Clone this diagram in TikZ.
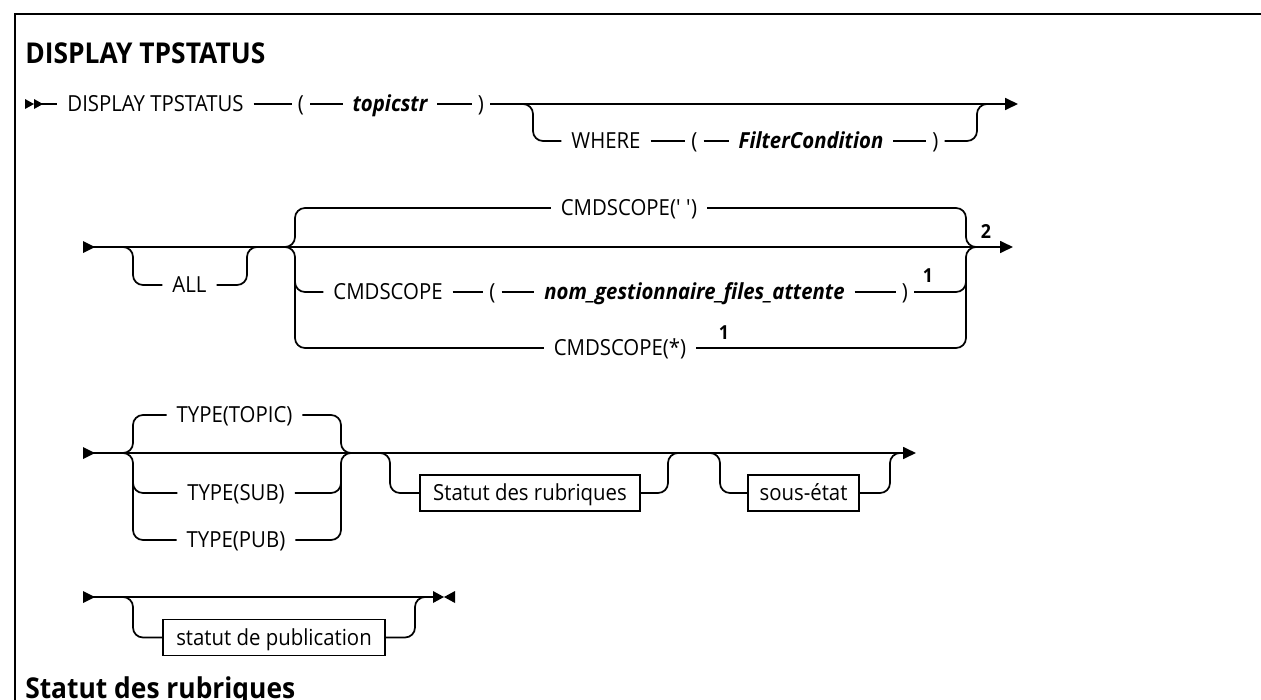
\documentclass[tikz,border=0pt]{standalone}
\usepackage{fontspec}
\setmainfont{Open Sans}[FakeStretch=0.92]
\usetikzlibrary{arrows.meta}
\newcommand\dfs{\fontsize{16.6pt}{19pt}\selectfont}
\newcommand\hfs{\fontsize{21.5pt}{25pt}\selectfont}
\newcommand\nfs{\fontsize{14.5pt}{16pt}\selectfont}
\begin{document}
\begin{tikzpicture}[x=0.75pt,y=-0.75pt,
  ln/.style={line width=1.3pt, rounded corners=7.5pt},
  endtip/.style={-{Triangle[length=9.75pt,width=9pt]}},
  tok/.style={inner sep=0pt, outer xsep=7.5pt, outer ysep=0pt, text height=11.8pt, text depth=0pt, font=\dfs},
  par/.style={tok, outer xsep=4.5pt},
  var/.style={tok, font=\dfs\bfseries\itshape},
  boxn/.style={draw, line width=1.1pt, inner sep=0pt, outer sep=0pt, minimum height=27pt, text height=11.8pt, text depth=0pt, font=\dfs},
  hd/.style={inner sep=0pt, anchor=base west, font=\hfs\bfseries},
  note/.style={inner sep=0pt, font=\nfs\bfseries},
  trimark/.style={fill=black}
]
\useasboundingbox (0,0) rectangle (1261,700);
% frame
\draw[line width=1.5pt] (15,720) -- (15,14) -- (1290,14);
\node[hd] (title) at (25,63) {DISPLAY TPSTATUS};

% ---------- row 1 ----------
\fill[trimark] (25,99) -- (34,104) -- (25,109) -- cycle;
\fill[trimark] (34,99) -- (43,104) -- (34,109) -- cycle;
\coordinate (r1s) at (40,104);
\coordinate (r1e) at (1018,104);
\node[tok] (d1) at (155.5,104) {DISPLAY TPSTATUS};
\node[par] (p1) at (301,104) {(};
\node[var] (v1) at (390,104) {topicstr};
\node[par] (p2) at (481,104) {)};
\node[tok] (w1) at (606,141) {WHERE};
\node[par] (p3) at (694.5,141) {(};
\node[var] (v2) at (811,141) {FilterCondition};
\node[par] (p4) at (935.5,141) {)};
\draw[ln] (r1s) -- (d1.west);
\draw[ln] (d1.east) -- (p1.west);
\draw[ln] (p1.east) -- (v1.west);
\draw[ln] (v1.east) -- (p2.west);
\draw[ln,endtip] (p2.east) -- (r1e);
\draw[ln] (515,104) -- (533,104) -- (533,141) -- (w1.west);
\draw[ln] (w1.east) -- (p3.west);
\draw[ln] (p3.east) -- (v2.west);
\draw[ln] (v2.east) -- (p4.west);
\draw[ln] (p4.east) -- (977,141) -- (977,104) -- (995,104);

% ---------- row 2 ----------
\fill[trimark] (83,241) -- (95,247) -- (83,253) -- cycle;
\coordinate (r2s) at (93,247);
\coordinate (r2e) at (1013,247);
\draw[ln,endtip] (r2s) -- (r2e);
\node[tok] (all) at (189.5,285) {ALL};
\draw[ln] (115,247) -- (133,247) -- (133,285) -- (all.west);
\draw[ln] (all.east) -- (247,285) -- (247,247) -- (265,247);
\node[tok] (cs1) at (629,208) {CMDSCOPE(\textquotesingle\ \textquotesingle)};
\node[tok] (cs2) at (388,292) {CMDSCOPE};
\node[par] (p5) at (492.5,292) {(};
\node[var] (v3) at (694.5,292) {nom\_gestionnaire\_files\_attente};
\node[par] (p6) at (905,292) {)};
\node[tok] (cs3) at (620,348) {CMDSCOPE(*)};
\node[note] (n1) at (928,276) {1};
\node[note] (n2) at (724,333) {1};
\node[note] (n3) at (986,231) {2};
\draw[ln] (277,247) -- (295,247) -- (295,208) -- (cs1.west);
\draw[ln] (cs1.east) -- (966,208) -- (966,247) -- (984,247);
\draw[ln] (277,247) -- (295,247) -- (295,348) -- (cs3.west);
\draw[ln] (295,268) -- (295,292) -- (cs2.west);
\draw[ln] (cs2.east) -- (p5.west);
\draw[ln] (p5.east) -- (v3.west);
\draw[ln] (v3.east) -- (p6.west);
\draw[ln] (p6.east) -- (966,292) -- (966,268);
\draw[ln] (cs3.east) -- (966,348) -- (966,247) -- (984,247);

% ---------- row 3 ----------
\fill[trimark] (83,447) -- (95,453) -- (83,459) -- cycle;
\coordinate (r3s) at (93,453);
\coordinate (r3e) at (916,453);
\draw[ln,endtip] (r3s) -- (r3e);
\node[tok] (tt) at (234.5,415) {TYPE(TOPIC)};
\node[tok] (ts) at (236,493) {TYPE(SUB)};
\node[tok] (tp) at (236,540) {TYPE(PUB)};
\draw[ln] (115,453) -- (133,453) -- (133,415) -- (tt.west);
\draw[ln] (tt.east) -- (341,415) -- (341,453) -- (359,453);
\draw[ln] (115,453) -- (133,453) -- (133,540) -- (tp.west);
\draw[ln] (133,470) -- (133,493) -- (ts.west);
\draw[ln] (ts.east) -- (341,493) -- (341,470);
\draw[ln] (tp.east) -- (341,540) -- (341,453) -- (359,453);
\node[boxn, minimum width=165pt] (b1) at (530,493) {Statut des rubriques};
\node[boxn, minimum width=83.25pt] (b2) at (803.5,493) {sous-état};
\draw[ln] (372,453) -- (390,453) -- (390,493) -- (b1.west);
\draw[ln] (b1.east) -- (668,493) -- (668,453) -- (686,453);
\draw[ln] (702,453) -- (720,453) -- (720,493) -- (b2.west);
\draw[ln] (b2.east) -- (890,493) -- (890,453) -- (908,453);

% ---------- row 4 ----------
\fill[trimark] (83,591) -- (95,597) -- (83,603) -- cycle;
\coordinate (r4s) at (93,597);
\coordinate (r4e) at (434,597);
\draw[ln] (r4s) -- (r4e);
\node[boxn, minimum width=166.5pt] (b3) at (274,637.5) {statut de publication};
\draw[ln] (115,597) -- (133,597) -- (133,637.5) -- (b3.west);
\draw[ln] (b3.east) -- (415,637.5) -- (415,597) -- (433,597);
\fill[trimark] (433,591) -- (444,597) -- (433,603) -- cycle;
\fill[trimark] (455,591) -- (444,597) -- (455,603) -- cycle;

\node[hd] (h2) at (25,698) {Statut des rubriques};
\end{tikzpicture}
\end{document}
